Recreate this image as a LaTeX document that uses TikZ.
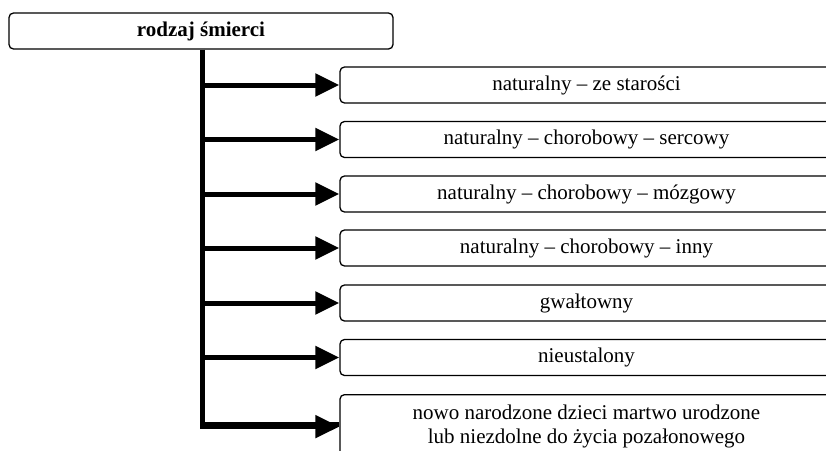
\documentclass[tikz,border=0pt]{standalone}
\usepackage{fontspec}
\setmainfont{Liberation Serif}
\usetikzlibrary{arrows.meta}
\begin{document}
\begin{tikzpicture}[x=1pt,y=-1pt,
  box/.style={draw, line width=1.3pt, rounded corners=4.5pt, inner sep=0pt, align=center,
    font=\fontsize{21}{24}\selectfont},
  child/.style={box, minimum width=493pt, minimum height=36pt},
  conn/.style={line width=5pt, -{Triangle[length=24pt,width=22pt]}}
]
\useasboundingbox (0,0) rectangle (826,450);
\clip (0,0) rectangle (826,450);
\node[box, minimum width=384pt, minimum height=36pt, font=\fontsize{21}{24}\selectfont\bfseries] (root) at (201,31) {rodzaj śmierci};
\node[child] (c1) at (586.5,85) {naturalny – ze starości};
\node[child] (c2) at (586.5,139.5) {naturalny – chorobowy – sercowy};
\node[child] (c3) at (586.5,194) {naturalny – chorobowy – mózgowy};
\node[child] (c4) at (586.5,248) {naturalny – chorobowy – inny};
\node[child] (c5) at (586.5,303) {gwałtowny};
\node[child] (c6) at (586.5,357.5) {nieustalony};
\node[child, minimum height=64pt, anchor=north] (c7) at (586.5,394) {nowo narodzone dzieci martwo urodzone\\lub niezdolne do życia pozałonowego};
\coordinate (trunk) at (202.5,0);
\draw[line width=5pt] (root.south -| trunk) -- ([yshift=2.5pt]c7.west -| trunk) -- ([yshift=2.5pt]c7.west);
\foreach \c in {c1,c2,c3,c4,c5,c6}{
  \draw[conn] (\c.west -| trunk) -- (\c.west);
}
\draw[conn] ([xshift=-2.5pt]c7.west -| trunk) -- (c7.west);
\end{tikzpicture}
\end{document}
